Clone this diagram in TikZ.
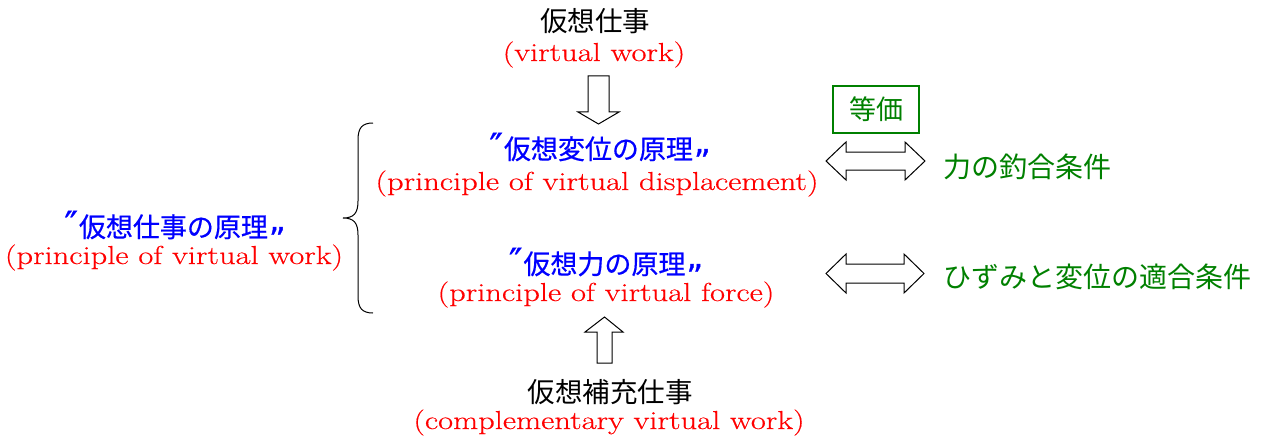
\documentclass[tikz,border=0pt]{standalone}
\usepackage{fontspec}
\usepackage{graphicx}
\newfontfamily\jp{Noto Sans CJK JP}
\newfontfamily\jpb[FakeBold=0.5]{Noto Sans CJK JP}
\newfontfamily\en[FakeBold=0.4]{Latin Modern Roman}
\newfontfamily\dvq[FakeBold=0.9]{DejaVu Sans}
\definecolor{jred}{RGB}{255,0,0}
\definecolor{jblue}{RGB}{0,0,255}
\definecolor{jgreen}{RGB}{0,128,0}
\newcommand\oqm{{\dvq\fontsize{36}{36}\selectfont ″}\hspace{1pt}}
\newcommand\cqm{\hspace{1pt}\raisebox{6pt}{\dvq\fontsize{32}{32}\selectfont „}}
\newcommand\ent[1]{\scalebox{1.25}[1]{#1}}
\tikzset{
  jtext/.style={inner sep=0pt, anchor=base, font=\jp\fontsize{27.5}{30}\selectfont, text=black},
  btext/.style={inner sep=0pt, anchor=base, font=\jpb\fontsize{27}{30}\selectfont, text=jblue},
  etext/.style={inner sep=0pt, anchor=base, font=\en\fontsize{26}{28}\selectfont, text=jred},
  gtext/.style={inner sep=0pt, anchor=base west, font=\jp\fontsize{28}{30}\selectfont, text=jgreen},
  blockarrow/.style={draw=black, line width=1pt, fill=white, line join=miter},
}
\begin{document}
\begin{tikzpicture}[x=1pt,y=-1pt]
\useasboundingbox (0,0) rectangle (1263,441);
% top
\node[jtext] (vw) at (595,32) {仮想仕事};
\node[etext] (vwe) at (594,61) {\ent{(virtual work)}};
% principle of virtual displacement
\node[btext] (pvd) at (600,159) {\oqm 仮想変位の原理\cqm};
\node[etext] (pvde) at (597,190) {\ent{(principle of virtual displacement)}};
% principle of virtual force
\node[btext] (pvf) at (606,274) {\oqm 仮想力の原理\cqm};
\node[etext] (pvfe) at (606,301) {\ent{(principle of virtual force)}};
% bottom
\node[jtext] (cvw) at (610,402) {仮想補充仕事};
\node[etext] (cvwe) at (609,429) {\ent{(complementary virtual work)}};
% left
\node[btext] (pw) at (175,237) {\oqm 仮想仕事の原理\cqm};
\node[etext] (pwe) at (174,264) {\ent{(principle of virtual work)}};
% right
\node[gtext] (eq) at (943,177) {力の釣合条件};
\node[gtext] (comp) at (943,287) {ひずみと変位の適合条件};
\node[draw=jgreen, line width=2pt, text=jgreen, font=\jp\fontsize{27}{30}\selectfont,
      minimum width=86pt, minimum height=47pt, inner sep=0pt] (equiv) at (876,109.5) {等価};
% brace
\draw[line width=1pt, black] (373,123) .. controls (362,123) and (358,128) .. (358,140)
  -- (358,201) .. controls (358,213) and (354,218) .. (343,218)
  .. controls (354,218) and (358,223) .. (358,235)
  -- (358,296) .. controls (358,308) and (362,313) .. (373,313);
% down arrow
\draw[blockarrow] (588,76) -- (609,76) -- (609,112) -- (619,112) -- (598.5,124) -- (578,112) -- (588,112) -- cycle;
% up arrow
\draw[blockarrow] (597,363) -- (612,363) -- (612,332) -- (623,332) -- (604.5,317) -- (585,332) -- (597,332) -- cycle;
% double arrows
\draw[blockarrow] (826,161) -- (846,142) -- (846,152) -- (905,152) -- (905,142) -- (925,161) -- (905,180) -- (905,170) -- (846,170) -- (846,180) -- cycle;
\draw[blockarrow] (826,273.5) -- (846,254) -- (846,264) -- (904,264) -- (904,254) -- (924,273.5) -- (904,293) -- (904,283) -- (846,283) -- (846,293) -- cycle;
\end{tikzpicture}
\end{document}
